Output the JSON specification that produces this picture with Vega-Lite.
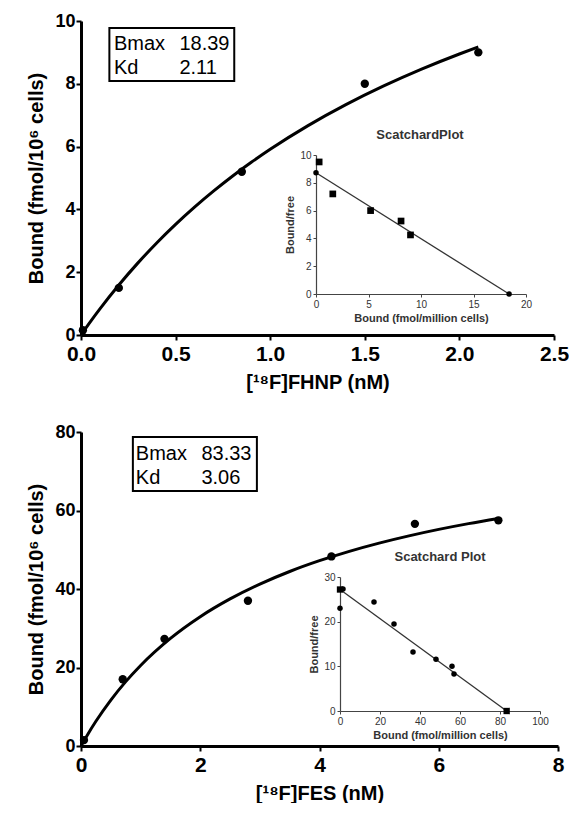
{
  "$schema": "https://vega.github.io/schema/vega-lite/v6.json",
  "padding": {"left": 26, "top": 12, "right": 0, "bottom": 0},
  "background": "white",
  "config": {"font": "Liberation Sans", "view": {"stroke": null}},
  "spacing": 31,
  "datasets": {
    "fhnp_curve": [
      {"x": 0, "y": 0}, {"x": 0.05, "y": 0.426}, {"x": 0.1, "y": 0.832}, {"x": 0.2, "y": 1.592},
      {"x": 0.3, "y": 2.289}, {"x": 0.4, "y": 2.931}, {"x": 0.5, "y": 3.523}, {"x": 0.6, "y": 4.072},
      {"x": 0.7, "y": 4.581}, {"x": 0.8, "y": 5.056}, {"x": 0.9, "y": 5.499}, {"x": 1.0, "y": 5.913},
      {"x": 1.2, "y": 6.667}, {"x": 1.4, "y": 7.335}, {"x": 1.6, "y": 7.931}, {"x": 1.8, "y": 8.466},
      {"x": 2.0, "y": 8.949}, {"x": 2.1, "y": 9.173}
    ],
    "fhnp_points": [
      {"x": 0.01, "y": 0.15}, {"x": 0.2, "y": 1.5}, {"x": 0.85, "y": 5.2}, {"x": 1.5, "y": 8.0}, {"x": 2.1, "y": 9.0}
    ],
    "fhnp_box": [{"x": 0.15, "x2": 0.81, "y": 9.78, "y2": 8.09}],
    "fhnp_text": [
      {"x": 0.174, "y": 9.08, "label": "Bmax"}, {"x": 0.52, "y": 9.08, "label": "18.39"},
      {"x": 0.174, "y": 8.31, "label": "Kd"}, {"x": 0.52, "y": 8.31, "label": "2.11"}
    ],
    "fhnp_sc_pts": [
      {"bx": 0.3, "bf": 9.5}, {"bx": 1.6, "bf": 7.2}, {"bx": 5.2, "bf": 6.0}, {"bx": 8.1, "bf": 5.25}, {"bx": 9.0, "bf": 4.25}
    ],
    "fhnp_sc_fit": [{"bx": 0, "bf": 8.72}, {"bx": 18.39, "bf": 0}],
    "fhnp_sc_title": [{"bx": 9.9, "bf": 11.44, "label": "ScatchardPlot"}],
    "fes_curve": [
      {"x": 0, "y": 0}, {"x": 0.1, "y": 2.637}, {"x": 0.25, "y": 6.294}, {"x": 0.5, "y": 11.70},
      {"x": 0.75, "y": 16.40}, {"x": 1.0, "y": 20.52}, {"x": 1.5, "y": 27.41}, {"x": 2.0, "y": 32.94},
      {"x": 2.5, "y": 37.47}, {"x": 3.0, "y": 41.25}, {"x": 3.5, "y": 44.46}, {"x": 4.0, "y": 47.21},
      {"x": 4.5, "y": 49.60}, {"x": 5.0, "y": 51.69}, {"x": 5.5, "y": 53.54}, {"x": 6.0, "y": 55.19},
      {"x": 6.5, "y": 56.66}, {"x": 7.0, "y": 57.98}
    ],
    "fes_points": [
      {"x": 0.05, "y": 1.5}, {"x": 0.7, "y": 17}, {"x": 1.4, "y": 27.3}, {"x": 2.8, "y": 37},
      {"x": 4.2, "y": 48.3}, {"x": 5.6, "y": 56.6}, {"x": 7.0, "y": 57.5}
    ],
    "fes_box": [{"x": 0.87, "x2": 2.95, "y": 78.7, "y2": 65}],
    "fes_text": [
      {"x": 0.92, "y": 72.9, "label": "Bmax"}, {"x": 2.02, "y": 72.9, "label": "83.33"},
      {"x": 0.92, "y": 66.8, "label": "Kd"}, {"x": 2.02, "y": 66.8, "label": "3.06"}
    ],
    "fes_sc_pts": [
      {"bx": 0, "bf": 23}, {"bx": 1.5, "bf": 27.3}, {"bx": 17, "bf": 24.4}, {"bx": 27, "bf": 19.5},
      {"bx": 36.5, "bf": 13.2}, {"bx": 48, "bf": 11.6}, {"bx": 56, "bf": 10}, {"bx": 57, "bf": 8.3}
    ],
    "fes_sc_fit": [{"bx": 0, "bf": 27.2}, {"bx": 83.33, "bf": 0}],
    "fes_sc_title": [{"bx": 50, "bf": 34.5, "label": "Scatchard Plot"}]
  },
  "vconcat": [
    {
      "width": 473,
      "height": 314,
      "resolve": {"scale": {"x": "independent", "y": "independent"}},
      "layer": [
        {
          "encoding": {
            "x": {"field": "x", "type": "quantitative",
              "scale": {"domain": [0, 2.5], "nice": false, "zero": false},
              "axis": {"values": [0, 0.5, 1, 1.5, 2, 2.5], "format": ".1f", "grid": false,
                "title": "[¹⁸F]FHNP (nM)", "titleFontSize": 20, "titleFontWeight": "bold", "titleColor": "black", "titlePadding": 8,
                "labelFontSize": 21, "labelFontWeight": "bold", "labelColor": "black", "labelPadding": 3,
                "labelOverlap": false, "labelFlush": false, "labelBound": false,
                "domainColor": "black", "domainWidth": 3, "tickColor": "black", "tickWidth": 2, "tickSize": 5}},
            "y": {"field": "y", "type": "quantitative",
              "scale": {"domain": [0, 10], "nice": false, "zero": false},
              "axis": {"values": [0, 2, 4, 6, 8, 10], "format": "d", "grid": false,
                "title": "Bound (fmol/10⁶ cells)", "titleFontSize": 20, "titleFontWeight": "bold", "titleColor": "black", "titlePadding": 8,
                "labelFontSize": 18, "labelFontWeight": "bold", "labelColor": "black", "labelPadding": 1,
                "labelOverlap": false, "labelFlush": false, "labelBound": false,
                "domainColor": "black", "domainWidth": 3, "tickColor": "black", "tickWidth": 2, "tickSize": 5}}
          },
          "layer": [
            {"data": {"name": "fhnp_curve"}, "mark": {"type": "line", "color": "black", "strokeWidth": 3, "interpolate": "monotone"}},
            {"data": {"name": "fhnp_points"}, "mark": {"type": "circle", "color": "black", "opacity": 1, "size": 70}},
            {"data": {"name": "fhnp_box"}, "mark": {"type": "rect", "fill": "white", "stroke": "black", "strokeWidth": 2},
              "encoding": {"x2": {"field": "x2"}, "y2": {"field": "y2"}}},
            {"data": {"name": "fhnp_text"}, "mark": {"type": "text", "align": "left", "baseline": "alphabetic", "fontSize": 20, "color": "black"},
              "encoding": {"text": {"field": "label"}}}
          ]
        },
        {
          "encoding": {
            "x": {"field": "bx", "type": "quantitative",
              "scale": {"domain": [0, 20], "range": [235, 445], "nice": false, "zero": false},
              "axis": {"orient": "bottom", "offset": -41, "values": [0, 5, 10, 15, 20], "grid": false,
                "title": "Bound (fmol/million cells)", "titleFontSize": 11, "titleFontWeight": "bold", "titleColor": "#333", "titlePadding": 3,
                "labelFontSize": 10, "labelColor": "#333", "labelPadding": 2, "labelFlush": false, "labelOverlap": false,
                "domainColor": "#444", "domainWidth": 1.2, "tickColor": "#444", "tickSize": 3}},
            "y": {"field": "bf", "type": "quantitative",
              "scale": {"domain": [0, 10], "range": [273, 134], "nice": false, "zero": false},
              "axis": {"orient": "left", "offset": -235, "values": [0, 2, 4, 6, 8, 10], "grid": false,
                "title": "Bound/free", "titleFontSize": 11, "titleFontWeight": "bold", "titleColor": "#333", "titlePadding": 4,
                "labelFontSize": 10, "labelColor": "#333", "labelPadding": 2, "labelFlush": false, "labelOverlap": false,
                "domainColor": "#444", "domainWidth": 1.2, "tickColor": "#444", "tickSize": 3}}
          },
          "layer": [
            {"data": {"name": "fhnp_sc_fit"}, "mark": {"type": "line", "color": "#333", "strokeWidth": 1.3}},
            {"data": {"name": "fhnp_sc_fit"}, "mark": {"type": "circle", "color": "black", "opacity": 1, "size": 30}},
            {"data": {"name": "fhnp_sc_pts"}, "mark": {"type": "square", "color": "black", "opacity": 1, "size": 45}},
            {"data": {"name": "fhnp_sc_title"}, "mark": {"type": "text", "align": "center", "baseline": "middle", "fontSize": 13, "fontWeight": "bold", "color": "#333"},
              "encoding": {"text": {"field": "label"}}}
          ]
        }
      ]
    },
    {
      "width": 477,
      "height": 314,
      "resolve": {"scale": {"x": "independent", "y": "independent"}},
      "layer": [
        {
          "encoding": {
            "x": {"field": "x", "type": "quantitative",
              "scale": {"domain": [0, 8], "nice": false, "zero": false},
              "axis": {"values": [0, 2, 4, 6, 8], "format": "d", "grid": false,
                "title": "[¹⁸F]FES (nM)", "titleFontSize": 20, "titleFontWeight": "bold", "titleColor": "black", "titlePadding": 8,
                "labelFontSize": 21, "labelFontWeight": "bold", "labelColor": "black", "labelPadding": 3,
                "labelOverlap": false, "labelFlush": false, "labelBound": false,
                "domainColor": "black", "domainWidth": 3, "tickColor": "black", "tickWidth": 2, "tickSize": 5}},
            "y": {"field": "y", "type": "quantitative",
              "scale": {"domain": [0, 80], "nice": false, "zero": false},
              "axis": {"values": [0, 20, 40, 60, 80], "format": "d", "grid": false,
                "title": "Bound (fmol/10⁶ cells)", "titleFontSize": 20, "titleFontWeight": "bold", "titleColor": "black", "titlePadding": 8,
                "labelFontSize": 18, "labelFontWeight": "bold", "labelColor": "black", "labelPadding": 1,
                "labelOverlap": false, "labelFlush": false, "labelBound": false,
                "domainColor": "black", "domainWidth": 3, "tickColor": "black", "tickWidth": 2, "tickSize": 5}}
          },
          "layer": [
            {"data": {"name": "fes_curve"}, "mark": {"type": "line", "color": "black", "strokeWidth": 3, "interpolate": "monotone"}},
            {"data": {"name": "fes_points"}, "mark": {"type": "circle", "color": "black", "opacity": 1, "size": 70}},
            {"data": {"name": "fes_box"}, "mark": {"type": "rect", "fill": "white", "stroke": "black", "strokeWidth": 2},
              "encoding": {"x2": {"field": "x2"}, "y2": {"field": "y2"}}},
            {"data": {"name": "fes_text"}, "mark": {"type": "text", "align": "left", "baseline": "alphabetic", "fontSize": 20, "color": "black"},
              "encoding": {"text": {"field": "label"}}}
          ]
        },
        {
          "encoding": {
            "x": {"field": "bx", "type": "quantitative",
              "scale": {"domain": [0, 100], "range": [259, 459], "nice": false, "zero": false},
              "axis": {"orient": "bottom", "offset": -35, "values": [0, 20, 40, 60, 80, 100], "grid": false,
                "title": "Bound (fmol/million cells)", "titleFontSize": 11, "titleFontWeight": "bold", "titleColor": "#333", "titlePadding": 3,
                "labelFontSize": 10, "labelColor": "#333", "labelPadding": 2, "labelFlush": false, "labelOverlap": false,
                "domainColor": "#444", "domainWidth": 1.2, "tickColor": "#444", "tickSize": 3}},
            "y": {"field": "bf", "type": "quantitative",
              "scale": {"domain": [0, 30], "range": [279, 145], "nice": false, "zero": false},
              "axis": {"orient": "left", "offset": -259, "values": [0, 10, 20, 30], "grid": false,
                "title": "Bound/free", "titleFontSize": 11, "titleFontWeight": "bold", "titleColor": "#333", "titlePadding": 4,
                "labelFontSize": 10, "labelColor": "#333", "labelPadding": 2, "labelFlush": false, "labelOverlap": false,
                "domainColor": "#444", "domainWidth": 1.2, "tickColor": "#444", "tickSize": 3}}
          },
          "layer": [
            {"data": {"name": "fes_sc_fit"}, "mark": {"type": "line", "color": "#333", "strokeWidth": 1.3}},
            {"data": {"name": "fes_sc_fit"}, "mark": {"type": "square", "color": "black", "opacity": 1, "size": 40}},
            {"data": {"name": "fes_sc_pts"}, "mark": {"type": "circle", "color": "black", "opacity": 1, "size": 30}},
            {"data": {"name": "fes_sc_title"}, "mark": {"type": "text", "align": "center", "baseline": "middle", "fontSize": 13, "fontWeight": "bold", "color": "#333"},
              "encoding": {"text": {"field": "label"}}}
          ]
        }
      ]
    }
  ]
}
